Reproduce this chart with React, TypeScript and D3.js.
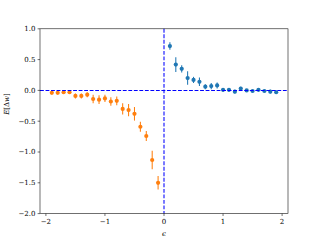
import React from "react";
import * as d3 from "d3";

const epsNeg = [-1.9, -1.8, -1.7, -1.6, -1.5, -1.4, -1.3, -1.2, -1.1, -1.0, -0.9, -0.8, -0.7, -0.6, -0.5, -0.4, -0.3, -0.2, -0.1];
const valNeg = [-0.04, -0.04, -0.03, -0.03, -0.09, -0.09, -0.07, -0.14, -0.15, -0.13, -0.18, -0.17, -0.30, -0.32, -0.38, -0.59, -0.74, -1.13, -1.50];
const errNeg = [0.02, 0.02, 0.02, 0.02, 0.04, 0.04, 0.04, 0.07, 0.07, 0.06, 0.07, 0.07, 0.09, 0.10, 0.11, 0.08, 0.08, 0.15, 0.11];

const epsPos = [0.1, 0.2, 0.3, 0.4, 0.5, 0.6, 0.7, 0.8, 0.9, 1.0, 1.1, 1.2, 1.3, 1.4, 1.5, 1.6, 1.7, 1.8, 1.9];
const valPos = [0.72, 0.42, 0.35, 0.20, 0.17, 0.14, 0.06, 0.07, 0.08, 0.01, 0.01, -0.02, 0.03, 0.0, -0.01, 0.01, -0.01, -0.02, -0.03];
const errPos = [0.06, 0.12, 0.06, 0.11, 0.05, 0.07, 0.04, 0.05, 0.05, 0.03, 0.03, 0.03, 0.03, 0.02, 0.02, 0.02, 0.02, 0.03, 0.03];

const xTicks = [-2, -1, 0, 1, 2];
const yTicks = [-2.0, -1.5, -1.0, -0.5, 0.0, 0.5, 1.0];

const W = 320, H = 240;
const L = 40, R = 288, T = 28.8, B = 213.6;

export default function App() {
  const x = d3.scaleLinear().domain([-2.1, 2.1]).range([L, R]);
  const y = d3.scaleLinear().domain([-2, 1]).range([B, T]);
  const font = "'DejaVu Serif', 'Liberation Serif', serif";
  const fmtX = (v: number) => (v < 0 ? "\u2212" + Math.abs(v) : String(v));
  const fmtY = (v: number) => (v < 0 ? "\u2212" + Math.abs(v).toFixed(1) : v.toFixed(1));

  const series = [
    { xs: epsNeg, vs: valNeg, es: errNeg, color: "#ff7f0e" },
    { xs: epsPos, vs: valPos, es: errPos, color: "#1f77b4" },
  ];

  return (
    <svg width={W} height={H} style={{ position: "absolute", left: 0, top: 0 }}>
      <rect width={W} height={H} fill="white" />
      {series.map((s, si) => (
        <g key={si}>
          {s.xs.map((xv, i) => (
            <g key={i}>
              <line x1={x(xv)} x2={x(xv)} y1={y(s.vs[i] - s.es[i])} y2={y(s.vs[i] + s.es[i])} stroke={s.color} strokeWidth={1.05} />
              <circle cx={x(xv)} cy={y(s.vs[i])} r={2.1} fill={s.color} />
            </g>
          ))}
        </g>
      ))}
      <line x1={L} x2={R} y1={y(0)} y2={y(0)} stroke="#0000ff" strokeWidth={1.05} strokeDasharray="3.85,1.67" />
      <line x1={x(0)} x2={x(0)} y1={T} y2={B} stroke="#0000ff" strokeWidth={1.05} strokeDasharray="3.85,1.67" />
      <rect x={L} y={T} width={R - L} height={B - T} fill="none" stroke="black" strokeWidth={0.56} />
      {xTicks.map((t) => (
        <g key={t}>
          <line x1={x(t)} x2={x(t)} y1={B} y2={B + 2.4} stroke="black" strokeWidth={0.56} />
          <text x={x(t)} y={B + 10.5} textAnchor="middle" fontFamily={font} fontSize={7}>{fmtX(t)}</text>
        </g>
      ))}
      {yTicks.map((t) => (
        <g key={t}>
          <line x1={L - 2.4} x2={L} y1={y(t)} y2={y(t)} stroke="black" strokeWidth={0.56} />
          <text x={L - 4.5} y={y(t) + 2.4} textAnchor="end" fontFamily={font} fontSize={7}>{fmtY(t)}</text>
        </g>
      ))}
      <text x={x(0)} y={236} textAnchor="middle" fontFamily={font} fontStyle="italic" fontSize={7}>ϵ</text>
      <text transform={`translate(9,${104}) rotate(-90)`} textAnchor="middle" fontFamily={font} fontSize={7}>
        <tspan fontStyle="italic">E</tspan>[Δ<tspan fontStyle="italic">w</tspan>]
      </text>
    </svg>
  );
}
